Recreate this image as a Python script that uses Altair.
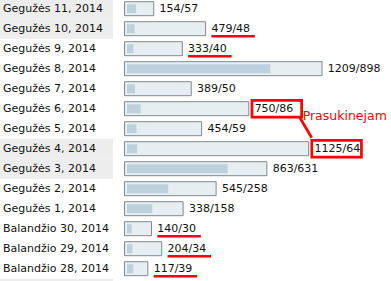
import altair as alt
import pandas as pd

dates = ["Gegužės 11, 2014", "Gegužės 10, 2014", "Gegužės 9, 2014", "Gegužės 8, 2014",
         "Gegužės 7, 2014", "Gegužės 6, 2014", "Gegužės 5, 2014", "Gegužės 4, 2014",
         "Gegužės 3, 2014", "Gegužės 2, 2014", "Gegužės 1, 2014", "Balandžio 30, 2014",
         "Balandžio 29, 2014", "Balandžio 28, 2014"]
totals = [154, 479, 333, 1209, 389, 750, 454, 1125, 863, 545, 338, 140, 204, 117]
seconds = [57, 48, 40, 898, 50, 86, 59, 64, 631, 258, 158, 30, 34, 39]
weekend = ["Gegužės 11, 2014", "Gegužės 10, 2014", "Gegužės 4, 2014", "Gegužės 3, 2014",
           "Balandžio 27, 2014"]
underlined = ["Gegužės 10, 2014", "Gegužės 9, 2014", "Balandžio 30, 2014",
              "Balandžio 29, 2014", "Balandžio 28, 2014"]
boxed = ["Gegužės 6, 2014", "Gegužės 4, 2014"]
note = "Prasukinejam"

df = pd.DataFrame({"date": dates, "total": totals, "second": seconds})
df["label"] = df["total"].astype(str) + "/" + df["second"].astype(str)
row_domain = dates + ["Balandžio 27, 2014"]

PX = 0.1595
X0 = 127
xscale = alt.Scale(domain=[0, max(totals)], range=[X0, X0 + max(totals) * PX], nice=False, zero=False)
yscale = alt.Scale(domain=row_domain, range=[-1.3, -1.3 + 20 * len(row_domain)],
                   paddingInner=0, paddingOuter=0)


def X(f):
    return alt.X(f, scale=xscale, axis=None)


def Y(f):
    return alt.Y(f, scale=yscale, axis=None)


RED = "#ff0000"
FONT = "DejaVu Sans"

bg = alt.Chart(pd.DataFrame({"date": weekend})).mark_rect(color="#ededed").encode(
    x=alt.value(0), x2=alt.value(113), y=Y("date:N"))

names = alt.Chart(df).mark_text(align="left", baseline="middle", font=FONT, fontSize=11,
                                color="#111111").encode(
    x=alt.value(3), y=Y("date:N"), text="date:N")

outer = alt.Chart(df).mark_bar(height=14, fill="#e6eef1", stroke="#7f8b8f", strokeWidth=1,
                               xOffset=2.2, x2Offset=-2.5).encode(
    x=X("total:Q"), x2=alt.datum(0), y=Y("date:N"))

inner = alt.Chart(df).mark_bar(height=9, color="#bcd1db").encode(
    x=X("second:Q"), x2=alt.datum(0), y=Y("date:N"))

labels = alt.Chart(df).mark_text(align="left", baseline="middle", dx=8, font=FONT,
                                 fontSize=11, color="#111111").encode(
    x=X("total:Q"), y=Y("date:N"), text="label:N")

under = alt.Chart(df[df["date"].isin(underlined)]).mark_rule(
    color=RED, strokeWidth=2.5, xOffset=8, x2Offset=51.5, yOffset=7.5).encode(
    x=X("total:Q"), x2="total:Q", y=Y("date:N"))

boxes = alt.Chart(df[df["date"].isin(boxed)]).mark_bar(
    height=16.8, fill="white", fillOpacity=0, stroke=RED, strokeWidth=2.7,
    xOffset=55, x2Offset=5.35).encode(
    x=X("total:Q"), x2="total:Q", y=Y("date:N"))

t = dict(zip(dates, totals))
conn_df = pd.DataFrame({"d1": [boxed[0]], "v1": [t[boxed[0]]],
                        "d2": [boxed[1]], "v2": [t[boxed[1]]], "note": [note]})

conn = alt.Chart(conn_df).mark_rule(color=RED, strokeWidth=2.7, xOffset=52.7, yOffset=8,
                                    x2Offset=5.3, y2Offset=-11).encode(
    x=X("v1:Q"), y=Y("d1:N"), x2="v2:Q", y2="d2:N")

note_t = alt.Chart(conn_df).mark_text(align="left", baseline="middle", dx=56, dy=7.5,
                                      font=FONT, fontSize=12.5, color=RED).encode(
    x=X("v1:Q"), y=Y("d1:N"), text="note:N")

chart = alt.layer(bg, names, outer, inner, labels, under, boxes, conn, note_t).properties(
    width=391, height=281, autosize=alt.AutoSizeParams(type="none"), padding=0,
    background="white"
).configure_view(strokeWidth=0)

chart.save("out.html", embed_options={"renderer": "svg", "actions": False})
